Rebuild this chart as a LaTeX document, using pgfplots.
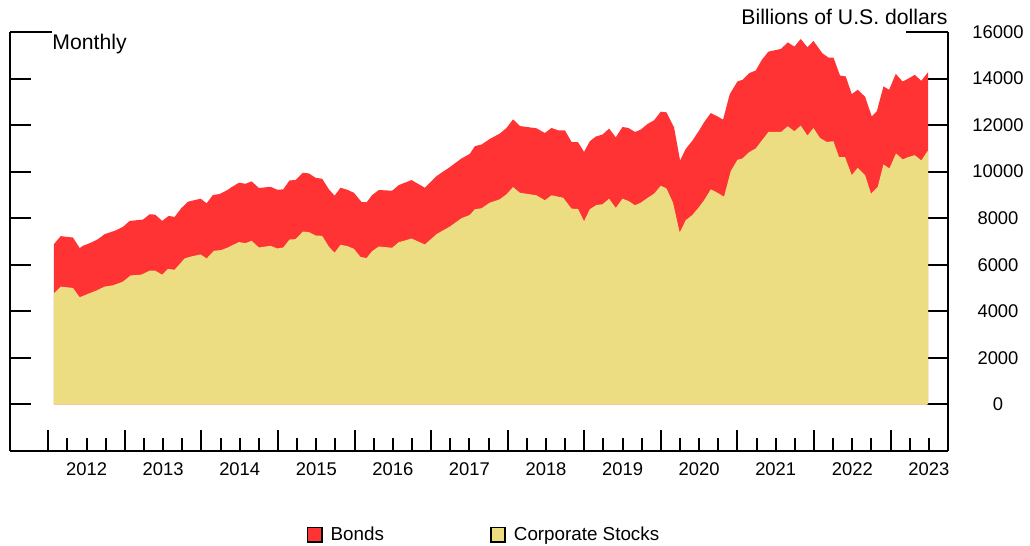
\documentclass[border=0pt]{standalone}
\usepackage{fontspec}
\setmainfont{Liberation Sans}
\usepackage{pgfplots}
\pgfplotsset{compat=1.18}
\definecolor{bondred}{RGB}{255,51,51}
\definecolor{stockyellow}{RGB}{236,220,130}
\begin{document}
\begin{tikzpicture}
\path[use as bounding box] (0pt,0pt) rectangle (515pt,273pt);
\begin{axis}[
  at={(5pt,47.5pt)}, anchor=south west,
  scale only axis, width=469pt, height=209.5pt,
  xmin=2011.5, xmax=2023.75, ymin=-2000, ymax=16000,
  axis x line*=bottom,
  axis line style={line width=1pt},
  every tick/.style={line width=1pt, black},
  tick align=inside,
  major tick length=10.5pt, minor tick length=6.5pt,
  xtick={2012,2013,...,2023},
  xticklabels={2012,2013,2014,2015,2016,2017,2018,2019,2020,2021,2022,2023},
  minor xtick={2012.25,2012.5,2012.75,2013.25,2013.5,2013.75,2014.25,2014.5,2014.75,2015.25,2015.5,2015.75,2016.25,2016.5,2016.75,2017.25,2017.5,2017.75,2018.25,2018.5,2018.75,2019.25,2019.5,2019.75,2020.25,2020.5,2020.75,2021.25,2021.5,2021.75,2022.25,2022.5,2022.75,2023.25,2023.5},
  xticklabel style={xshift=19.15pt, yshift=-2.5pt},
  ytick={0,2000,...,14000},
  extra y ticks={16000},
  extra y tick style={major tick length=21pt},
  scaled y ticks=false,
  yticklabel pos=right,
  yticklabel style={anchor=center, xshift=25pt},
  /pgf/number format/assume math mode=true,
  /pgf/number format/1000 sep={},
  tick label style={font=\fontsize{9.2}{10}\selectfont},
  legend style={at={(0.5063,-0.2)}, anchor=center, draw=none, fill=none,
    legend columns=2, font=\fontsize{9.4}{10}\selectfont,
    /tikz/every odd column/.append style={column sep=2pt},
    /tikz/every even column/.append style={column sep=51pt}},
  legend image code/.code={\draw[#1, draw=black, line width=0.8pt] (0pt,-3.6pt) rectangle (7.2pt,3.6pt);},
]
\addplot[fill=bondred, draw=none] coordinates {
(2012.074,6888)(2012.162,7230)(2012.322,7170)(2012.410,6717)(2012.453,6815)(2012.561,6956)(2012.649,7101)(2012.736,7315)(2012.867,7457)(2012.975,7628)(2013.063,7884)(2013.236,7940)(2013.324,8171)(2013.397,8154)(2013.488,7884)(2013.572,8098)(2013.650,8056)(2013.736,8428)(2013.824,8710)(2013.990,8838)(2014.068,8642)(2014.150,8997)(2014.238,9039)(2014.346,9223)(2014.381,9309)(2014.490,9523)(2014.577,9480)(2014.655,9583)(2014.751,9296)(2014.903,9352)(2014.990,9223)(2015.068,9240)(2015.151,9626)(2015.230,9638)(2015.325,9951)(2015.403,9925)(2015.491,9737)(2015.577,9694)(2015.665,9240)(2015.739,8967)(2015.817,9309)(2015.903,9223)(2015.991,9095)(2016.091,8697)(2016.157,8684)(2016.230,8997)(2016.317,9211)(2016.491,9181)(2016.578,9424)(2016.644,9510)(2016.744,9638)(2016.918,9309)(2017.070,9809)(2017.244,10195)(2017.397,10567)(2017.505,10764)(2017.571,11093)(2017.658,11166)(2017.766,11405)(2017.897,11636)(2017.984,11876)(2018.070,12248)(2018.158,11961)(2018.376,11863)(2018.484,11662)(2018.572,11876)(2018.658,11778)(2018.746,11778)(2018.833,11277)(2018.919,11264)(2018.997,10849)(2019.072,11307)(2019.150,11508)(2019.238,11594)(2019.324,11850)(2019.411,11478)(2019.499,11919)(2019.577,11876)(2019.663,11705)(2019.738,11807)(2019.825,12047)(2019.911,12205)(2019.999,12577)(2020.073,12548)(2020.172,11906)(2020.251,10481)(2020.325,10977)(2020.413,11337)(2020.499,11765)(2020.564,12120)(2020.652,12518)(2020.739,12376)(2020.812,12235)(2020.900,13330)(2021.000,13874)(2021.066,13946)(2021.152,14229)(2021.239,14344)(2021.318,14802)(2021.405,15157)(2021.569,15273)(2021.657,15555)(2021.744,15371)(2021.827,15700)(2021.914,15341)(2021.993,15615)(2022.110,15084)(2022.189,14900)(2022.254,14900)(2022.340,14130)(2022.415,14088)(2022.493,13330)(2022.571,13519)(2022.667,13219)(2022.754,12376)(2022.820,12590)(2022.907,13660)(2022.981,13519)(2023.068,14203)(2023.156,13874)(2023.227,13989)(2023.316,14160)(2023.401,13904)(2023.489,14271)
} \closedcycle;
\addlegendentry{Bonds}
\addplot[fill=stockyellow, draw=none] coordinates {
(2012.074,4774)(2012.162,5061)(2012.322,5005)(2012.410,4603)(2012.518,4749)(2012.627,4890)(2012.736,5061)(2012.845,5117)(2012.975,5275)(2013.076,5544)(2013.214,5574)(2013.324,5745)(2013.397,5745)(2013.488,5574)(2013.563,5818)(2013.650,5788)(2013.781,6272)(2013.867,6357)(2013.990,6443)(2014.068,6272)(2014.163,6601)(2014.258,6631)(2014.346,6742)(2014.381,6802)(2014.490,6973)(2014.577,6930)(2014.655,7029)(2014.751,6742)(2014.903,6815)(2014.990,6699)(2015.068,6742)(2015.151,7084)(2015.230,7101)(2015.325,7427)(2015.403,7401)(2015.491,7256)(2015.577,7243)(2015.665,6772)(2015.739,6515)(2015.817,6858)(2015.903,6802)(2015.991,6687)(2016.078,6332)(2016.157,6289)(2016.230,6588)(2016.317,6785)(2016.491,6729)(2016.578,6973)(2016.644,7029)(2016.744,7127)(2016.918,6870)(2017.070,7315)(2017.244,7641)(2017.397,8000)(2017.505,8141)(2017.571,8385)(2017.658,8428)(2017.766,8667)(2017.897,8813)(2017.984,9027)(2018.070,9339)(2018.158,9095)(2018.376,8984)(2018.484,8770)(2018.572,8984)(2018.724,8881)(2018.833,8411)(2018.919,8398)(2018.997,7872)(2019.072,8385)(2019.159,8569)(2019.238,8599)(2019.324,8838)(2019.411,8441)(2019.499,8838)(2019.577,8740)(2019.663,8556)(2019.738,8667)(2019.825,8868)(2019.911,9052)(2019.999,9394)(2020.073,9283)(2020.159,8667)(2020.246,7384)(2020.325,7914)(2020.413,8141)(2020.499,8483)(2020.564,8770)(2020.652,9240)(2020.739,9095)(2020.825,8924)(2020.913,10023)(2021.000,10507)(2021.066,10567)(2021.152,10836)(2021.239,10995)(2021.318,11337)(2021.405,11705)(2021.569,11705)(2021.657,11949)(2021.744,11735)(2021.827,11978)(2021.914,11551)(2021.993,11876)(2022.078,11448)(2022.166,11277)(2022.254,11307)(2022.327,10622)(2022.405,10622)(2022.493,9852)(2022.571,10165)(2022.667,9852)(2022.745,9052)(2022.833,9352)(2022.907,10310)(2022.985,10139)(2023.071,10781)(2023.159,10524)(2023.227,10622)(2023.316,10708)(2023.401,10481)(2023.489,10909)
} \closedcycle;
\addlegendentry{Corporate Stocks}
\end{axis}
\node[anchor=base west, inner sep=0pt, font=\fontsize{10.6}{12}\selectfont] at (26pt,248pt) {Monthly};
\node[anchor=base east, inner sep=0pt, font=\fontsize{10.6}{12}\selectfont] at (474pt,260.5pt) {Billions of U.S. dollars};
\end{tikzpicture}
\end{document}
